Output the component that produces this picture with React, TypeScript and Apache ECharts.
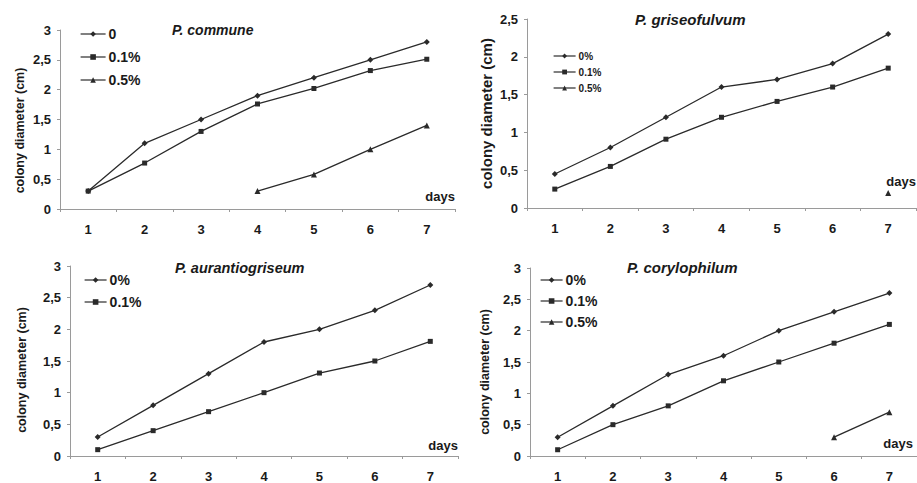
import React, { useEffect, useRef } from "react";
import * as echarts from "echarts";

const days = ["1", "2", "3", "4", "5", "6", "7"];

const communeNames = ["0", "0.1%", "0.5%"];
const commune0 = [0.3, 1.1, 1.5, 1.9, 2.2, 2.5, 2.8];
const commune01 = [0.3, 0.77, 1.3, 1.76, 2.02, 2.32, 2.51];
const commune05 = [null, null, null, 0.3, 0.58, 1.0, 1.4];

const griseoNames = ["0%", "0.1%", "0.5%"];
const griseo0 = [0.45, 0.8, 1.2, 1.6, 1.7, 1.91, 2.3];
const griseo01 = [0.25, 0.55, 0.91, 1.2, 1.41, 1.6, 1.85];
const griseo05 = [null, null, null, null, null, null, 0.2];

const aurantNames = ["0%", "0.1%"];
const aurant0 = [0.3, 0.8, 1.3, 1.8, 2.0, 2.3, 2.7];
const aurant01 = [0.1, 0.4, 0.7, 1.0, 1.31, 1.5, 1.81];

const coryNames = ["0%", "0.1%", "0.5%"];
const cory0 = [0.3, 0.8, 1.3, 1.6, 2.0, 2.3, 2.6];
const cory01 = [0.1, 0.5, 0.8, 1.2, 1.5, 1.8, 2.1];
const cory05 = [null, null, null, null, null, 0.3, 0.7];

const titles = ["P. commune", "P. griseofulvum", "P. aurantiogriseum", "P. corylophilum"];
const yName = "colony diameter (cm)";
const xName = "days";

const FONT = "'Liberation Sans', Arial, Helvetica, sans-serif";
const INK = "#1a1a1a";
const LINE = "#2a2a2a";
const AXIS = "#9a9a9a";

const symbols = ["diamond", "rect", "triangle"];
const symbolSizes = [6, 5, 6];

type Panel = {
  grid: { left: number; top: number; width: number; height: number };
  max: number;
  names: string[];
  data: (number | null)[][];
  nameGap: number;
  nameSize: number;
  namePad: number[];
  title: { left: number; top: number; size: number };
  legend: { left: number; top: number; gap: number; h: number; w: number; size: number };
  daysPad: number[];
};

const panels: Panel[] = [
  {
    grid: { left: 60, top: 30, width: 395, height: 179 },
    max: 3,
    names: communeNames,
    data: [commune0, commune01, commune05],
    nameGap: 34,
    nameSize: 12.5,
    namePad: [0, 22, 0, 0],
    title: { left: 172, top: 23, size: 14 },
    legend: { left: 80, top: 27, gap: 9, h: 7, w: 25, size: 14 },
    daysPad: [0, 0, 6, 0],
  },
  {
    grid: { left: 527, top: 19, width: 393, height: 189 },
    max: 2.5,
    names: griseoNames,
    data: [griseo0, griseo01, griseo05],
    nameGap: 33,
    nameSize: 15,
    namePad: [0, 0, 0, 0],
    title: { left: 635, top: 12, size: 15 },
    legend: { left: 553, top: 51, gap: 6, h: 6, w: 22, size: 10 },
    daysPad: [0, 0, 20, 0],
  },
  {
    grid: { left: 70, top: 266, width: 388, height: 191 },
    max: 3,
    names: aurantNames,
    data: [aurant0, aurant01],
    nameGap: 42,
    nameSize: 12.5,
    namePad: [0, 18, 0, 0],
    title: { left: 175, top: 260, size: 14.5 },
    legend: { left: 84, top: 273, gap: 8, h: 7, w: 22, size: 14 },
    daysPad: [0, 0, 4, 0],
  },
  {
    grid: { left: 530, top: 268, width: 387, height: 188 },
    max: 3,
    names: coryNames,
    data: [cory0, cory01, cory05],
    nameGap: 39,
    nameSize: 12.5,
    namePad: [0, 20, 0, 0],
    title: { left: 627, top: 260, size: 15 },
    legend: { left: 540, top: 273, gap: 7, h: 7, w: 22, size: 14 },
    daysPad: [0, 4, 6, 0],
  },
];

function buildOption() {
  const grid: any[] = [];
  const xAxis: any[] = [];
  const yAxis: any[] = [];
  const series: any[] = [];
  const title: any[] = [];
  const legend: any[] = [];

  panels.forEach((p, i) => {
    grid.push({ ...p.grid, containLabel: false });
    xAxis.push({
      type: "category",
      gridIndex: i,
      data: days,
      boundaryGap: true,
      name: xName,
      nameLocation: "end",
      nameGap: 0,
      nameTextStyle: {
        fontFamily: FONT,
        fontWeight: "bold",
        fontSize: 13,
        color: INK,
        align: "right",
        verticalAlign: "bottom",
        padding: p.daysPad,
      },
      axisLine: { lineStyle: { color: AXIS, width: 1 } },
      axisTick: { show: true, length: 3, alignWithLabel: false, lineStyle: { color: AXIS } },
      axisLabel: {
        fontFamily: FONT,
        fontWeight: "bold",
        fontSize: 13,
        color: INK,
        margin: 14,
      },
      splitLine: { show: false },
    });
    yAxis.push({
      type: "value",
      gridIndex: i,
      min: 0,
      max: p.max,
      interval: 0.5,
      name: yName,
      nameLocation: "middle",
      nameGap: p.nameGap,
      nameTextStyle: {
        fontFamily: FONT,
        fontWeight: "bold",
        fontSize: p.nameSize,
        color: INK,
        padding: p.namePad,
      },
      axisLine: { show: true, lineStyle: { color: AXIS, width: 1 } },
      axisTick: { show: true, length: 3, lineStyle: { color: AXIS } },
      axisLabel: {
        fontFamily: FONT,
        fontWeight: "bold",
        fontSize: 13,
        color: INK,
        margin: 9,
        formatter: (v: number) => String(v).replace(".", ","),
      },
      splitLine: { show: false },
    });
    p.names.forEach((n, k) => {
      series.push({
        type: "line",
        name: n,
        xAxisIndex: i,
        yAxisIndex: i,
        data: p.data[k],
        symbol: symbols[k],
        symbolSize: symbolSizes[k],
        showSymbol: true,
        connectNulls: false,
        lineStyle: { color: LINE, width: 1.3 },
        itemStyle: { color: LINE },
        emphasis: { disabled: true },
      });
    });
    title.push({
      text: titles[i],
      left: p.title.left,
      top: p.title.top,
      padding: 0,
      textStyle: {
        fontFamily: FONT,
        fontStyle: "italic",
        fontWeight: "bold",
        fontSize: p.title.size,
        color: INK,
      },
    });
    legend.push({
      data: p.names,
      orient: "vertical",
      left: p.legend.left,
      top: p.legend.top,
      padding: 0,
      itemGap: p.legend.gap,
      itemWidth: p.legend.w,
      itemHeight: p.legend.h,
      selectedMode: false,
      lineStyle: { width: 1.2 },
      textStyle: {
        fontFamily: FONT,
        fontWeight: "bold",
        fontSize: p.legend.size,
        color: INK,
        padding: [0, 0, 0, -2],
      },
    });
  });

  return {
    animation: false,
    backgroundColor: "#ffffff",
    grid,
    xAxis,
    yAxis,
    series,
    title,
    legend,
  };
}

export default function App() {
  const ref = useRef<HTMLDivElement>(null);
  useEffect(() => {
    if (!ref.current) return;
    const chart = echarts.init(ref.current, undefined, { renderer: "svg" });
    chart.setOption(buildOption() as any);
    return () => chart.dispose();
  }, []);
  return (
    <div
      ref={ref}
      style={{ position: "fixed", left: 0, top: 0, width: 917, height: 483, background: "#fff" }}
    />
  );
}
